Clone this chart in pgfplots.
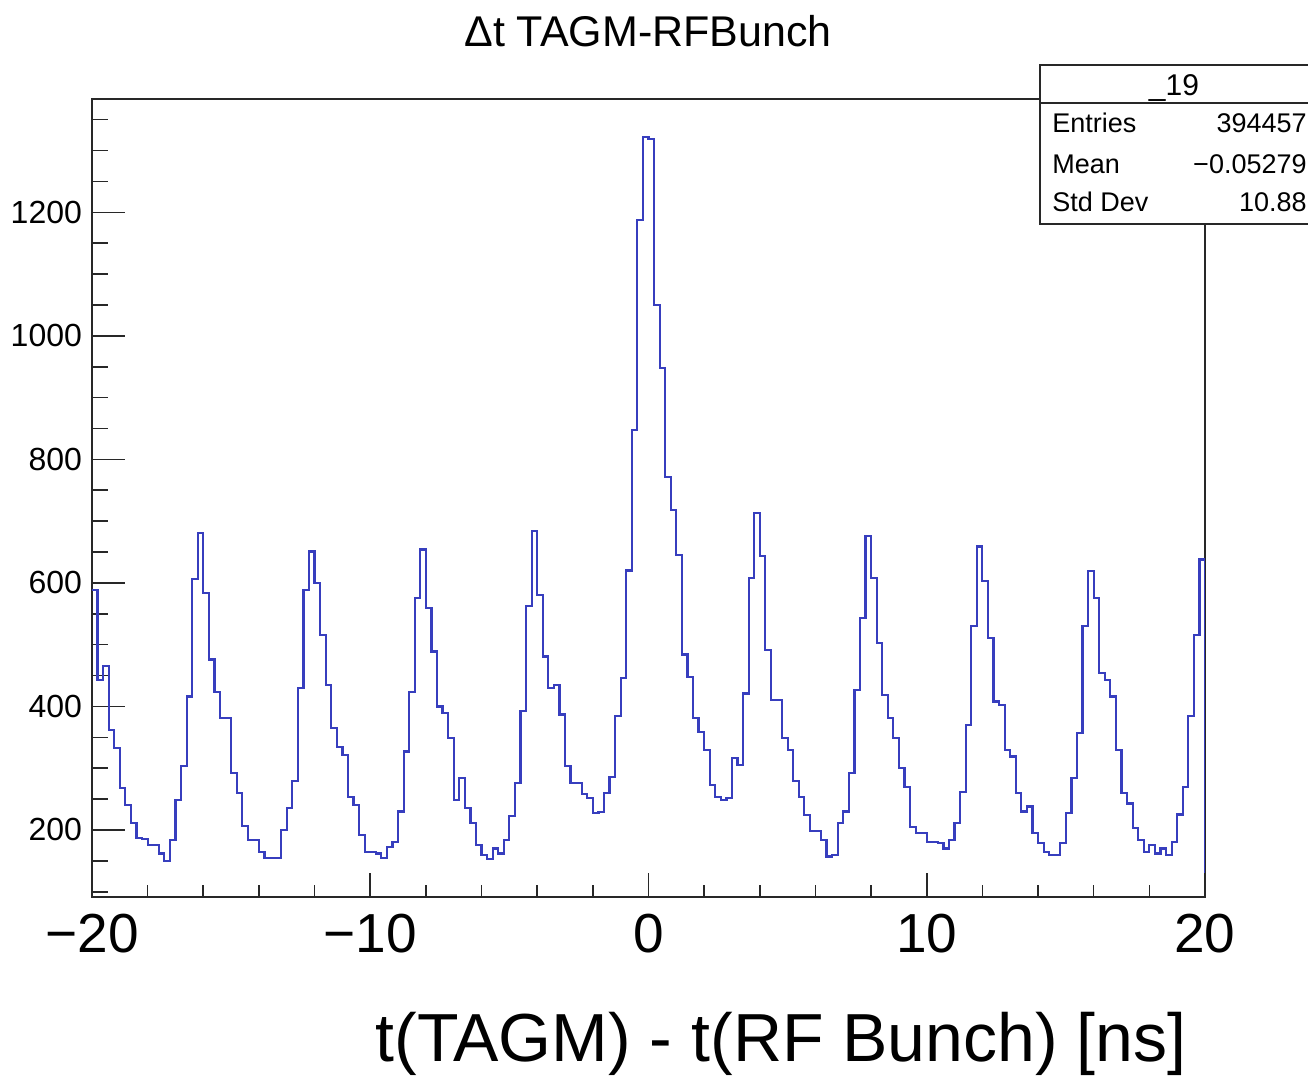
\documentclass[border=0pt]{standalone}
\usepackage{pgfplots}
\pgfplotsset{compat=1.18}
\usepackage{fontspec}
\setmainfont{Liberation Sans}
\definecolor{histblue}{RGB}{55,62,190}
\definecolor{framecol}{RGB}{40,40,40}
\begin{document}
\begin{tikzpicture}[x=1pt,y=1pt]
\begin{axis}[
  at={(46pt,90pt)}, anchor=south west,
  scale only axis, width=556.5pt, height=399pt,
  xmin=-20, xmax=20, ymin=91.5, ymax=1383.5,
  axis line style={line width=1pt, framecol},
  tick pos=left,
  xtick={-20,-10,0,10,20},
  xticklabels={−20,−10,0,10,20},
  minor xtick={-18,-16,...,18},
  ytick={200,400,...,1200},
  yticklabels={200,400,600,800,1000,1200},
  minor ytick={100,150,...,1350},
  xtick style={line width=0.8pt, framecol, /pgfplots/major tick length=12pt, /pgfplots/minor tick length=6pt},
  ytick style={line width=0.8pt, framecol, /pgfplots/major tick length=16.5pt, /pgfplots/minor tick length=8pt},
  xticklabel style={font=\fontsize{27.5}{30}\selectfont, yshift=-5pt},
  yticklabel style={font=\fontsize{16}{18}\selectfont, xshift=-1.5pt},
]
\addplot[const plot, histblue, line width=1.1pt] coordinates {
(-20.0,589) (-19.8,443) (-19.6,465) (-19.4,362) (-19.2,333) (-19.0,268) (-18.8,241) (-18.6,211) (-18.4,187) (-18.2,185)
(-18.0,176) (-17.8,176) (-17.6,162) (-17.4,150) (-17.2,184) (-17.0,249) (-16.8,303) (-16.6,416) (-16.4,606) (-16.2,681)
(-16.0,584) (-15.8,476) (-15.6,424) (-15.4,381) (-15.2,381) (-15.0,292) (-14.8,260) (-14.6,206) (-14.4,184) (-14.2,184)
(-14.0,165) (-13.8,154) (-13.6,154) (-13.4,154) (-13.2,200) (-13.0,235) (-12.8,279) (-12.6,430) (-12.4,589) (-12.2,651)
(-12.0,600) (-11.8,516) (-11.6,435) (-11.4,365) (-11.2,335) (-11.0,322) (-10.8,254) (-10.6,240) (-10.4,192) (-10.2,165)
(-10.0,165) (-9.8,162) (-9.6,154) (-9.4,173) (-9.2,181) (-9.0,230) (-8.8,327) (-8.6,424) (-8.4,576) (-8.2,654)
(-8.0,559) (-7.8,489) (-7.6,400) (-7.4,390) (-7.2,349) (-7.0,249) (-6.8,284) (-6.6,235) (-6.4,211) (-6.2,176)
(-6.0,160) (-5.8,153) (-5.6,170) (-5.4,162) (-5.2,184) (-5.0,222) (-4.8,276) (-4.6,392) (-4.4,562) (-4.2,684)
(-4.0,581) (-3.8,481) (-3.6,430) (-3.4,435) (-3.2,387) (-3.0,303) (-2.8,276) (-2.6,276) (-2.4,258) (-2.2,252)
(-2.0,227) (-1.8,229) (-1.6,260) (-1.4,286) (-1.2,385) (-1.0,446) (-0.8,620) (-0.6,848) (-0.4,1188) (-0.2,1322)
(0.0,1319) (0.2,1050) (0.4,948) (0.6,772) (0.8,718) (1.0,645) (1.2,484) (1.4,448) (1.6,381) (1.8,359)
(2.0,330) (2.2,273) (2.4,254) (2.6,248) (2.8,252) (3.0,316) (3.2,305) (3.4,421) (3.6,608) (3.8,713)
(4.0,643) (4.2,492) (4.4,411) (4.6,411) (4.8,349) (5.0,330) (5.2,279) (5.4,254) (5.6,224) (5.8,198)
(6.0,198) (6.2,184) (6.4,157) (6.6,160) (6.8,211) (7.0,230) (7.2,292) (7.4,427) (7.6,543) (7.8,676)
(8.0,608) (8.2,503) (8.4,419) (8.6,381) (8.8,349) (9.0,300) (9.2,270) (9.4,205) (9.6,195) (9.8,195)
(10.0,181) (10.2,180) (10.4,179) (10.6,170) (10.8,184) (11.0,211) (11.2,262) (11.4,370) (11.6,530) (11.8,659)
(12.0,603) (12.2,511) (12.4,408) (12.6,403) (12.8,330) (13.0,319) (13.2,260) (13.4,230) (13.6,238) (13.8,195)
(14.0,179) (14.2,165) (14.4,160) (14.6,160) (14.8,179) (15.0,227) (15.2,284) (15.4,357) (15.6,530) (15.8,619)
(16.0,576) (16.2,454) (16.4,443) (16.6,416) (16.8,330) (17.0,260) (17.2,243) (17.4,203) (17.6,184) (17.8,165)
(18.0,176) (18.2,162) (18.4,170) (18.6,160) (18.8,181) (19.0,225) (19.2,270) (19.4,384) (19.6,516) (19.8,638)
(20.0,130)
};
\end{axis}
% statistics box
\fill[white] (520,426.5) rectangle (654,506);
\draw[line width=0.9pt, framecol] (654,506) -- (520,506) -- (520,426.5) -- (654,426.5);
\draw[line width=0.9pt, framecol] (520,487) -- (654,487);
\node[anchor=base, font=\fontsize{15}{17}\selectfont, inner sep=0pt] at (587,490.5) {\_19};
\node[anchor=base west, font=\fontsize{13.5}{15}\selectfont, inner sep=0pt] at (526,472) {Entries};
\node[anchor=base east, font=\fontsize{13.5}{15}\selectfont, inner sep=0pt] at (653.5,472) {394457};
\node[anchor=base west, font=\fontsize{13.5}{15}\selectfont, inner sep=0pt] at (526,451.5) {Mean};
\node[anchor=base east, font=\fontsize{13.5}{15}\selectfont, inner sep=0pt] at (653.5,451.5) {−0.05279};
\node[anchor=base west, font=\fontsize{13.5}{15}\selectfont, inner sep=0pt] at (526,432.5) {Std Dev};
\node[anchor=base east, font=\fontsize{13.5}{15}\selectfont, inner sep=0pt] at (653.5,432.5) {10.88};
% title and x label
\node[anchor=base, font=\fontsize{21.5}{24}\selectfont, inner sep=0pt] at (324,515) {Δt TAGM-RFBunch};
\node[anchor=base, font=\fontsize{34}{38}\selectfont, inner sep=0pt] at (390.5,7.5) {t(TAGM) - t(RF Bunch) [ns]};
\pgfresetboundingbox
\path[use as bounding box] (0,0) rectangle (654,538.5);
\end{tikzpicture}
\end{document}
